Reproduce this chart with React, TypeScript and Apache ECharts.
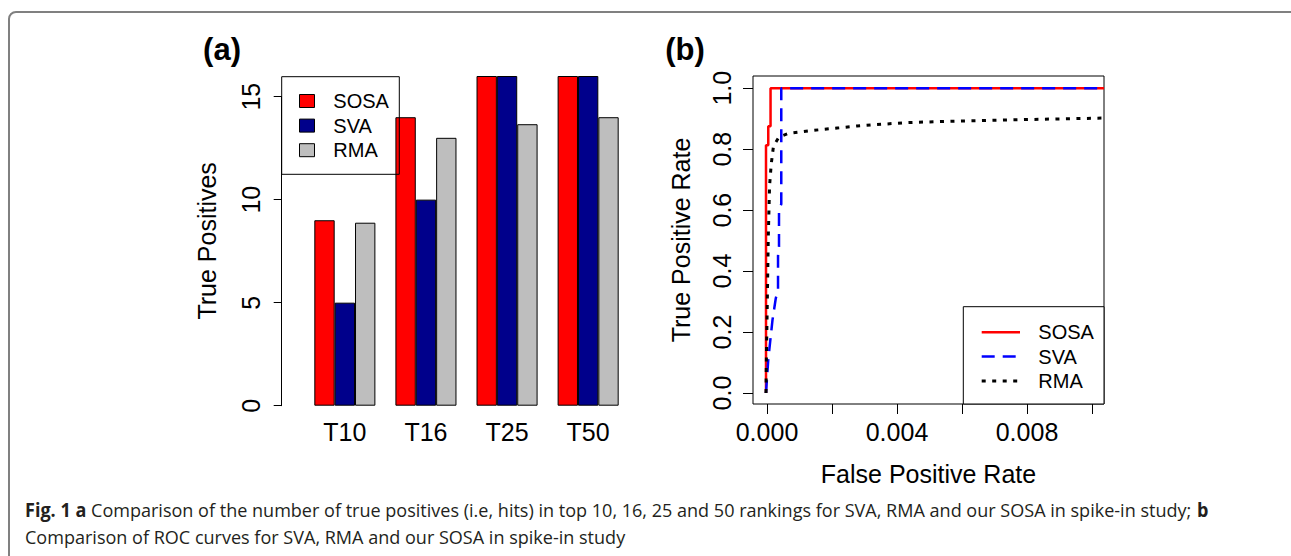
import React, { useEffect, useRef } from 'react';
import * as echarts from 'echarts';

// ---------- data ----------
const categories = ['T10', 'T16', 'T25', 'T50'];
const sosaTP = [9, 14, 16, 16];
const svaTP = [5, 10, 16, 16];
const rmaTP = [8.88, 13, 13.66, 14];

const sosaFPR = [0, 0, 0.00007, 0.00007, 0.00014, 0.00014, 0.0104];
const sosaTPR = [0, 0.8125, 0.8125, 0.875, 0.875, 1, 1];

const svaFPR = [0, 0.00007, 0.0002, 0.0003, 0.00037, 0.00037, 0.0004, 0.0004, 0.00047, 0.00047, 0.0104];
const svaTPR = [0, 0.11, 0.24, 0.31, 0.34, 0.45, 0.48, 0.6, 0.62, 1, 1];

const rmaFPR = [0, 0.00001, 0.00004, 0.00007, 0.00011, 0.00016, 0.00023, 0.0004, 0.0007, 0.0013, 0.00225, 0.0028, 0.0043, 0.0055, 0.0067, 0.0084, 0.0104];
const rmaTPR = [0, 0.1, 0.3, 0.51, 0.68, 0.75, 0.81, 0.84, 0.852, 0.86, 0.87, 0.876, 0.887, 0.891, 0.894, 0.898, 0.902];

const methodNames = ['SOSA', 'SVA', 'RMA'];
const barColors = ['#FF0000', '#00008B', '#BEBEBE'];
const lineColors = ['#FF0000', '#0000FF', '#000000'];

const captionBold1 = 'Fig. 1 a';
const captionText1 = ' Comparison of the number of true positives (i.e, hits) in top 10, 16, 25 and 50 rankings for SVA, RMA and our SOSA in spike-in study; ';
const captionBold2 = 'b';
const captionText2 = 'Comparison of ROC curves for SVA, RMA and our SOSA in spike-in study';

const FONT = "'Liberation Sans', Arial, Helvetica, sans-serif";
const CAP_FONT = "'Open Sans', 'Noto Sans', sans-serif";

const zip = (a: number[], b: number[]) => a.map((v, i) => [v, b[i]]);

function measure(text: string, font: string): number {
  const ctx = document.createElement('canvas').getContext('2d');
  if (!ctx) return text.length * 9;
  ctx.font = font;
  return ctx.measureText(text).width;
}

export default function App() {
  const ref = useRef<HTMLDivElement>(null);

  useEffect(() => {
    if (!ref.current) return;
    const chart = echarts.init(ref.current, undefined, { renderer: 'svg' });

    const capSize = 19;
    const w1 =
      measure(captionBold1, `bold ${capSize}px ${CAP_FONT}`) +
      measure(captionText1, `${capSize}px ${CAP_FONT}`) +
      measure(captionBold2, `bold ${capSize}px ${CAP_FONT}`);
    const capScale = 1183 / w1;

    const hiddenAxisParts = {
      axisLine: { show: false, onZero: false },
      axisTick: { show: false },
      axisLabel: { show: false },
      splitLine: { show: false },
    };

    const barLegendY = [101, 125.6, 150.2];
    const rocLegendY = [332.3, 356.6, 381];
    const lineDashes: any[] = [null, [13, 8], [4, 6.5]];
    const lineWidths = [2.5, 2.5, 3];

    const graphics: any[] = [
      {
        type: 'rect',
        shape: { x: 9, y: 12, width: 1330, height: 620, r: 7 },
        style: { fill: 'none', stroke: '#808080', lineWidth: 2 },
        z: 1,
      },
      {
        type: 'text', x: 222, y: 49.7, z: 100,
        style: { text: '(a)', fontSize: 31, fontWeight: 'bold', fontFamily: FONT, fill: '#000', align: 'center', verticalAlign: 'middle' },
      },
      {
        type: 'text', x: 685, y: 49, z: 100,
        style: { text: '(b)', fontSize: 31, fontWeight: 'bold', fontFamily: FONT, fill: '#000', align: 'center', verticalAlign: 'middle' },
      },
      // bar legend
      {
        type: 'rect', z: 100,
        shape: { x: 281.7, y: 76.7, width: 117.6, height: 97.6 },
        style: { fill: 'none', stroke: '#000', lineWidth: 1 },
      },
      ...methodNames.map((n, i) => ({
        type: 'rect', z: 100,
        shape: { x: 299.5, y: barLegendY[i] - 6.5, width: 15, height: 13 },
        style: { fill: barColors[i], stroke: '#000', lineWidth: 1 },
      })),
      ...methodNames.map((n, i) => ({
        type: 'text', z: 100, x: 333.3, y: barLegendY[i],
        style: { text: n, fontSize: 20, fontFamily: FONT, fill: '#000', align: 'left', verticalAlign: 'middle' },
      })),
      // ROC legend
      {
        type: 'rect', z: 100,
        shape: { x: 963.3, y: 306.7, width: 140.7, height: 97.3 },
        style: { fill: '#fff', stroke: '#000', lineWidth: 1 },
      },
      ...methodNames.map((n, i) => ({
        type: 'line', z: 101,
        shape: { x1: 981.7, y1: rocLegendY[i], x2: 1020, y2: rocLegendY[i] },
        style: { stroke: lineColors[i], lineWidth: lineWidths[i], lineDash: lineDashes[i] || undefined, lineCap: 'butt' },
      })),
      ...methodNames.map((n, i) => ({
        type: 'text', z: 101, x: 1038.3, y: rocLegendY[i],
        style: { text: n, fontSize: 20, fontFamily: FONT, fill: '#000', align: 'left', verticalAlign: 'middle' },
      })),
      // caption
      {
        type: 'text', z: 100, x: 25, y: 509.7, scaleX: capScale, scaleY: 1,
        style: {
          text: `{b|${captionBold1}}${captionText1}{b|${captionBold2}}`,
          fontSize: capSize, fontFamily: CAP_FONT, fill: '#231f20',
          align: 'left', verticalAlign: 'middle',
          rich: { b: { fontSize: capSize, fontFamily: CAP_FONT, fontWeight: 'bold', fill: '#231f20' } },
        },
      },
      {
        type: 'text', z: 100, x: 25, y: 536.3, scaleX: capScale, scaleY: 1,
        style: {
          text: captionText2, fontSize: capSize, fontFamily: CAP_FONT, fill: '#231f20',
          align: 'left', verticalAlign: 'middle',
        },
      },
    ];

    const option: any = {
      animation: false,
      backgroundColor: '#ffffff',
      textStyle: { fontFamily: FONT, color: '#000' },
      grid: [
        { left: 304.3, width: 324.4, top: 76, height: 329.7 },
        { left: 281.7, width: 20, top: 96.7, height: 309 },
        { left: 753, width: 351, top: 76, height: 328, show: true, borderColor: '#000', borderWidth: 1, backgroundColor: 'transparent' },
        { left: 767, width: 325, top: 76, height: 328 },
        { left: 753, width: 351, top: 88.2, height: 304.8 },
      ],
      xAxis: [
        {
          type: 'category', gridIndex: 0, data: categories,
          axisLine: { show: false }, axisTick: { show: false },
          axisLabel: { fontSize: 25, color: '#000', margin: 14, fontFamily: FONT },
          splitLine: { show: false },
        },
        { type: 'value', gridIndex: 1, show: false, ...hiddenAxisParts },
        {
          type: 'value', gridIndex: 2, min: -0.0004, max: 0.0104, ...hiddenAxisParts,
          name: 'False Positive Rate', nameLocation: 'middle', nameGap: 57,
          nameTextStyle: { fontSize: 25, color: '#000', fontFamily: FONT },
        },
        {
          type: 'value', gridIndex: 3, min: 0, max: 0.01, interval: 0.002,
          axisLine: { show: false, onZero: false },
          axisTick: { show: true, length: 10, lineStyle: { color: '#000', width: 1 } },
          axisLabel: {
            fontSize: 25, color: '#000', margin: 15, fontFamily: FONT,
            formatter: (v: number) => {
              const k = Math.round(v / 0.002);
              return k % 2 === 0 && k < 5 ? v.toFixed(3) : '';
            },
          },
          splitLine: { show: false },
        },
        { type: 'value', gridIndex: 4, show: false, ...hiddenAxisParts },
      ],
      yAxis: [
        {
          type: 'value', gridIndex: 0, min: 0, max: 16, ...hiddenAxisParts,
          name: 'True Positives', nameLocation: 'middle', nameRotate: 90, nameGap: 85,
          nameTextStyle: { fontSize: 25, color: '#000', fontFamily: FONT },
        },
        {
          type: 'value', gridIndex: 1, min: 0, max: 15, interval: 5,
          axisLine: { show: true, onZero: false, lineStyle: { color: '#000', width: 1 } },
          axisTick: { show: true, length: 8, lineStyle: { color: '#000', width: 1 } },
          axisLabel: { rotate: 90, fontSize: 25, color: '#000', margin: 18, fontFamily: FONT },
          splitLine: { show: false },
        },
        {
          type: 'value', gridIndex: 2, min: -0.036, max: 1.04, ...hiddenAxisParts,
          name: 'True Positive Rate', nameLocation: 'middle', nameRotate: 90, nameGap: 60,
          nameTextStyle: { fontSize: 25, color: '#000', fontFamily: FONT },
        },
        { type: 'value', gridIndex: 3, show: false, ...hiddenAxisParts },
        {
          type: 'value', gridIndex: 4, min: 0, max: 1, interval: 0.2,
          axisLine: { show: false, onZero: false },
          axisTick: { show: true, length: 10, lineStyle: { color: '#000', width: 1 } },
          axisLabel: {
            rotate: 90, fontSize: 25, color: '#000', margin: 19, fontFamily: FONT,
            formatter: (v: number) => v.toFixed(1),
          },
          splitLine: { show: false },
        },
      ],
      series: [
        ...[sosaTP, svaTP, rmaTP].map((d, i) => ({
          type: 'bar', name: methodNames[i], xAxisIndex: 0, yAxisIndex: 0, data: d,
          barGap: '0%', barCategoryGap: '24.7%',
          itemStyle: { color: barColors[i], borderColor: '#000', borderWidth: 1 },
        })),
        ...[[sosaFPR, sosaTPR], [svaFPR, svaTPR], [rmaFPR, rmaTPR]].map((p, i) => ({
          type: 'line', name: methodNames[i], xAxisIndex: 2, yAxisIndex: 2,
          data: zip(p[0], p[1]), symbol: 'none', showSymbol: false, clip: true, z: 3 + i,
          lineStyle: { color: lineColors[i], width: lineWidths[i], type: lineDashes[i] || 'solid', cap: 'butt' },
        })),
      ],
      graphic: graphics,
    };

    chart.setOption(option);
    return () => chart.dispose();
  }, []);

  return (
    <div
      ref={ref}
      style={{ position: 'absolute', left: 0, top: 0, width: 1291, height: 556, background: '#fff' }}
    />
  );
}
